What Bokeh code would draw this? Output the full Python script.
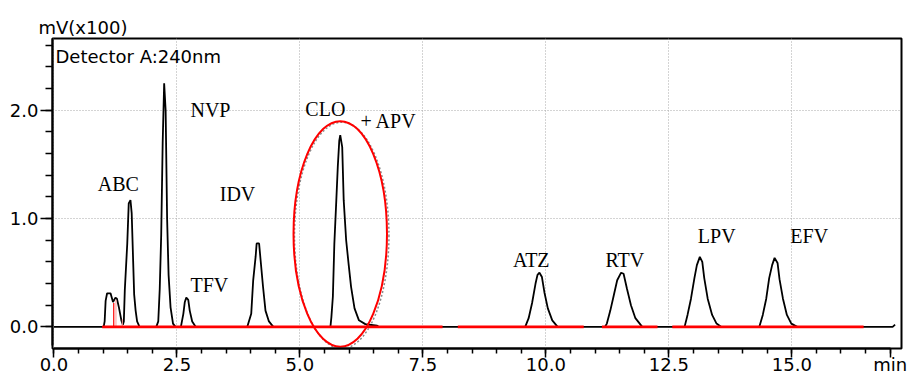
from bokeh.plotting import figure
from bokeh.models import Range1d, FixedTicker, NumeralTickFormatter, Label
from bokeh.core.properties import value
from bokeh.embed import file_html
from bokeh.resources import INLINE

# ---------------- data ----------------
# small early peaks (before ABC)
early_t = [1.01, 1.03, 1.05, 1.08, 1.15, 1.20, 1.25, 1.28, 1.32, 1.37, 1.40]
early_v = [0.0, 0.05, 0.24, 0.31, 0.31, 0.23, 0.27, 0.26, 0.18, 0.06, 0.02]
abc_t = [1.42, 1.44, 1.49, 1.52, 1.555, 1.58, 1.61, 1.63, 1.66, 1.69, 1.74]
abc_v = [0.05, 0.34, 0.77, 1.14, 1.17, 1.05, 0.60, 0.30, 0.15, 0.05, 0.0]
nvp_t = [2.08, 2.12, 2.15, 2.18, 2.21, 2.24, 2.27, 2.30, 2.33, 2.37, 2.42, 2.47]
nvp_v = [0.0, 0.05, 0.35, 0.85, 1.70, 2.25, 2.00, 1.00, 0.48, 0.18, 0.03, 0.0]
tfv_t = [2.58, 2.63, 2.66, 2.69, 2.73, 2.76, 2.81, 2.88]
tfv_v = [0.0, 0.12, 0.23, 0.27, 0.25, 0.15, 0.05, 0.0]
idv_t = [3.93, 4.01, 4.05, 4.10, 4.12, 4.17, 4.20, 4.25, 4.30, 4.37, 4.46]
idv_v = [0.0, 0.12, 0.43, 0.65, 0.77, 0.77, 0.62, 0.37, 0.15, 0.05, 0.0]
clo_t = [5.62, 5.64, 5.67, 5.70, 5.74, 5.77, 5.80, 5.82, 5.86, 5.89, 5.94,
         5.99, 6.04, 6.11, 6.20, 6.33, 6.57, 6.60]
clo_v = [0.0, 0.09, 0.28, 0.77, 1.17, 1.48, 1.72, 1.77, 1.66, 1.17, 0.80,
         0.58, 0.37, 0.17, 0.06, 0.025, 0.01, 0.0]
atz_t = [9.58, 9.65, 9.72, 9.79, 9.83, 9.87, 9.92, 9.97, 10.04, 10.13, 10.24]
atz_v = [0.0, 0.08, 0.22, 0.40, 0.48, 0.50, 0.46, 0.32, 0.17, 0.06, 0.0]
rtv_t = [11.20, 11.24, 11.31, 11.38, 11.45, 11.53, 11.58, 11.65, 11.73, 11.82, 11.96]
rtv_v = [0.0, 0.03, 0.15, 0.29, 0.43, 0.50, 0.49, 0.35, 0.20, 0.08, 0.0]
lpv_t = [12.82, 12.88, 12.95, 13.02, 13.07, 13.13, 13.18, 13.22, 13.29, 13.38, 13.47, 13.56]
lpv_v = [0.0, 0.11, 0.26, 0.45, 0.57, 0.646, 0.60, 0.45, 0.26, 0.11, 0.03, 0.0]
efv_t = [14.34, 14.41, 14.48, 14.54, 14.60, 14.65, 14.71, 14.75, 14.82, 14.90, 14.99, 15.11]
efv_v = [0.0, 0.11, 0.26, 0.45, 0.57, 0.637, 0.59, 0.44, 0.26, 0.11, 0.03, 0.0]
run_start_t, run_end_t = [0.0], [17.05, 17.10]
run_start_v, run_end_v = [0.0], [0.0, 0.02]

# integration baseline (red) segments
base_start = [0.98, 8.21, 11.14, 12.57]
base_end = [7.90, 10.77, 12.27, 16.46]

# peak names and where their labels sit (time, signal)
peak_names = ["ABC", "NVP", "IDV", "TFV", "CLO", "+ APV", "ATZ", "RTV", "LPV", "EFV"]
label_t = [0.89, 2.775, 3.37, 2.775, 5.11, 6.23, 9.33, 11.21, 13.09, 14.97]
label_v = [1.316, 2.004, 1.23, 0.385, 2.008, 1.898, 0.618, 0.615, 0.843, 0.843]

# axis ticks
x_major = [0.0, 2.5, 5.0, 7.5, 10.0, 12.5, 15.0, 17.0]
x_minor = [i * 0.5 for i in range(0, 35)]
x_grid = [0.0, 2.5, 5.0, 7.5, 10.0, 12.5, 15.0]
y_major = [0.0, 1.0, 2.0]
y_minor = [round(i * 0.2, 1) for i in range(0, 14)]
y_grid = [1.0, 2.0]

# ---------------- build trace ----------------
trace_t = (run_start_t + early_t + abc_t + nvp_t + tfv_t + idv_t + clo_t +
           atz_t + rtv_t + lpv_t + efv_t + run_end_t)
trace_v = (run_start_v + early_v + abc_v + nvp_v + tfv_v + idv_v + clo_v +
           atz_v + rtv_v + lpv_v + efv_v + run_end_v)

FONT = "DejaVu Sans"

p = figure(width=907, height=377,
           x_range=Range1d(-0.03, 17.23), y_range=Range1d(-0.2, 2.663),
           output_backend="svg", toolbar_location=None,
           min_border_left=52, min_border_right=6, min_border_top=38, min_border_bottom=29)
p.background_fill_color = "white"
p.border_fill_color = "white"
p.outline_line_color = "black"
p.outline_line_width = 2

# y-axis unit shown as the title, top left
p.title.text = "mV(x100)"
p.title.text_font = FONT
p.title.text_font_size = "18px"
p.title.text_font_style = "normal"
p.title.text_color = "black"
p.title.align = "left"
p.title.offset = -14
p.title.standoff = 2

# axes
p.xaxis.ticker = FixedTicker(ticks=x_major, minor_ticks=x_minor)
p.xaxis.formatter = NumeralTickFormatter(format="0.0")
p.xaxis.major_label_overrides = {17.0: "min"}
p.xaxis.bounds = (0, 17)
p.yaxis.ticker = FixedTicker(ticks=y_major, minor_ticks=y_minor)
p.yaxis.formatter = NumeralTickFormatter(format="0.0")
p.yaxis.bounds = (-0.17, 2.663)

for ax in (p.xaxis[0], p.yaxis[0]):
    ax.axis_line_width = 2
    ax.axis_line_color = "black"
    ax.major_tick_line_width = 1.5
    ax.minor_tick_line_width = 1.5
    ax.major_tick_line_color = "black"
    ax.minor_tick_line_color = "black"
    ax.major_tick_in = 0
    ax.minor_tick_in = 0
    ax.major_label_text_font = FONT
    ax.major_label_text_font_size = "18px"
    ax.major_label_text_color = "black"

p.xaxis.major_tick_out = 9
p.xaxis.minor_tick_out = 5
p.xaxis.major_label_standoff = -4
p.yaxis.major_tick_out = 12
p.yaxis.minor_tick_out = 7
p.yaxis.major_label_standoff = 2

# grids
p.xgrid.ticker = FixedTicker(ticks=x_grid)
p.ygrid.ticker = FixedTicker(ticks=y_grid)
for g in (p.xgrid[0], p.ygrid[0]):
    g.grid_line_color = "#a8a8a8"
    g.grid_line_dash = "1 2"
    g.grid_line_width = 1

# shadow ellipse (grey dotted) and trace
p.ellipse(x=[5.85], y=[0.845], width=[1.92], height=[2.09],
          fill_color=None, line_color="#8a8a8a", line_width=1.5, line_dash="2 2")
p.line(trace_t, trace_v, line_color="black", line_width=1.8)

# drop lines between early peaks
p.segment(x0=[1.215], y0=[0.0], x1=[1.215], y1=[0.22], line_color="red", line_width=1.2)
p.segment(x0=[1.26, 1.39], y0=[0.0, 0.0], x1=[1.26, 1.39], y1=[0.25, 0.07],
          line_color="#ff9999", line_width=1)

# red integration baseline
p.segment(x0=base_start, y0=[0.0] * len(base_start), x1=base_end, y1=[0.0] * len(base_end),
          line_color="red", line_width=2.6, line_cap="butt")

# red highlight ellipse around CLO + APV
p.ellipse(x=[5.82], y=[0.858], width=[1.90], height=[2.085],
          fill_color=None, line_color="red", line_width=2)

# peak labels
p.text(x=label_t, y=label_v, text=peak_names,
       text_font=value("Liberation Serif"), text_font_size=value("20px"),
       text_align="left", text_baseline="middle", text_color="black")

# detector note inside the frame
p.add_layout(Label(x=-0.03, y=2.663, x_offset=3, y_offset=-18, text="Detector A:240nm",
                   text_font=FONT, text_font_size="18px", text_color="black",
                   text_baseline="alphabetic", text_align="left"))

open("out.html", "w").write(file_html(p, INLINE))
